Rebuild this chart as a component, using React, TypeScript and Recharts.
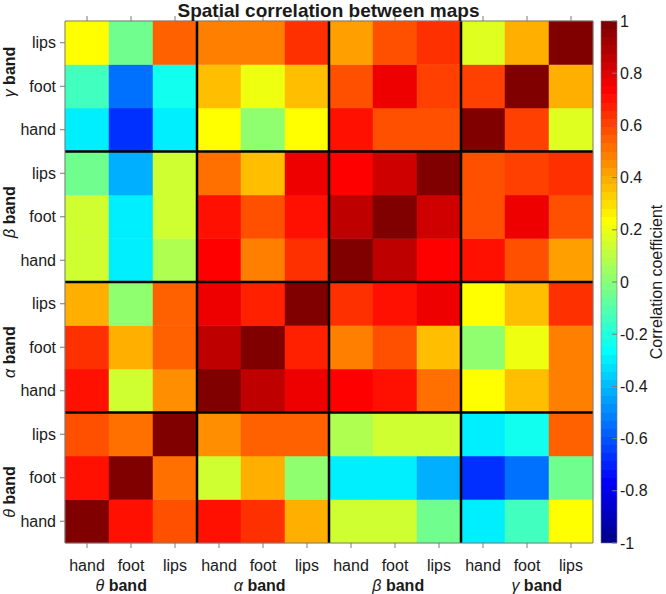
import React from "react"
import { BarChart, Bar, Cell, XAxis, YAxis, ReferenceLine } from "recharts"

const parts = ["hand", "foot", "lips"]
const bands = ["θ", "α", "β", "γ"]
const categories = bands.flatMap((b) => parts.map((p) => `${b} ${p}`))

// correlation rows, same order as the columns: θ hand ... γ lips
const thetaHand = [1, 0.7, 0.57, 0.69, 0.65, 0.38, 0.15, 0.13, -0.05, -0.31, -0.15, 0.24]
const thetaFoot = [0.7, 1, 0.5, 0.15, 0.38, 0.0, -0.3, -0.31, -0.42, -0.67, -0.55, -0.06]
const thetaLips = [0.57, 0.5, 1, 0.44, 0.56, 0.56, 0.08, 0.13, 0.14, -0.31, -0.25, 0.56]
const alphaHand = [0.69, 0.15, 0.44, 1, 0.85, 0.75, 0.72, 0.7, 0.5, 0.24, 0.36, 0.47]
const alphaFoot = [0.65, 0.38, 0.56, 0.85, 1, 0.68, 0.47, 0.57, 0.36, 0.0, 0.2, 0.47]
const alphaLips = [0.38, 0.0, 0.56, 0.75, 0.68, 1, 0.65, 0.69, 0.75, 0.24, 0.36, 0.65]
const betaHand = [0.15, -0.3, 0.08, 0.72, 0.47, 0.65, 1, 0.86, 0.72, 0.7, 0.57, 0.43]
const betaFoot = [0.13, -0.31, 0.13, 0.7, 0.57, 0.69, 0.86, 1, 0.82, 0.58, 0.75, 0.58]
const betaLips = [-0.05, -0.42, 0.14, 0.5, 0.36, 0.75, 0.72, 0.82, 1, 0.57, 0.6, 0.63]
const gammaHand = [-0.31, -0.67, -0.31, 0.24, 0.0, 0.24, 0.7, 0.58, 0.57, 1, 0.6, 0.17]
const gammaFoot = [-0.15, -0.55, -0.25, 0.36, 0.2, 0.36, 0.57, 0.75, 0.6, 0.6, 1, 0.38]
const gammaLips = [0.24, -0.06, 0.56, 0.47, 0.47, 0.65, 0.43, 0.58, 0.63, 0.17, 0.38, 1]

const corr = [
  thetaHand, thetaFoot, thetaLips,
  alphaHand, alphaFoot, alphaLips,
  betaHand, betaFoot, betaLips,
  gammaHand, gammaFoot, gammaLips,
]

const cellTicks = [0.5, 1.5, 2.5, 3.5, 4.5, 5.5, 6.5, 7.5, 8.5, 9.5, 10.5, 11.5]
const groupLines = [3, 6, 9]
const colorbarTicks = [-1, -0.8, -0.6, -0.4, -0.2, 0, 0.2, 0.4, 0.6, 0.8, 1]

const FONT = '"Liberation Sans", Arial, Helvetica, sans-serif'
const TEXT = "#1a1a1a"
const AXIS = "#7a7a7a"

// matlab jet(64)
function jetRow(m: number) {
  const u = (i: number) => (i < 1 || i > 47 ? 0 : i <= 16 ? i / 16 : i <= 31 ? 1 : (48 - i) / 16)
  const c = (x: number) => Math.round(255 * x)
  return `rgb(${c(u(m - 24))},${c(u(m - 8))},${c(u(m + 8))})`
}

function jet(v: number) {
  const m = Math.max(1, Math.min(64, Math.floor(((v + 1) / 2) * 64) + 1))
  return jetRow(m)
}

const tableData = categories.map((name) => {
  const row: Record<string, any> = { name }
  corr.forEach((_, i) => (row[`r${i}`] = 1))
  return row
})

const colorbarData = [{ name: "cb", range: [-1, 1] }]

function XTick(props: any) {
  const { x, y, payload } = props
  const j = categories.indexOf(payload.value)
  const g = Math.floor(j / 3)
  return (
    <g>
      <text x={x} y={y + 21} textAnchor="middle" fontSize={16} fill={TEXT} fontFamily={FONT}>
        {parts[j % 3]}
      </text>
      {j % 3 === 1 && (
        <text x={x + (g - 1.5) * 6.5} y={y + 41} textAnchor="middle" fontSize={16} fill={TEXT} fontFamily={FONT}>
          <tspan fontStyle="italic">{bands[g]}</tspan>
          <tspan fontWeight="bold"> band</tspan>
        </text>
      )}
    </g>
  )
}

function YTick(props: any) {
  const { x, y, payload } = props
  const i = Math.floor(payload.value)
  const g = Math.floor(i / 3)
  const gy = y - (g - 1.5) * 9.5
  return (
    <g>
      <text x={x - 2} y={y} dy="0.35em" textAnchor="end" fontSize={16} fill={TEXT} fontFamily={FONT}>
        {parts[i % 3]}
      </text>
      {i % 3 === 1 && (
        <text
          transform={`translate(${x - 49}, ${gy}) rotate(-90)`}
          textAnchor="middle"
          dy="0.35em"
          fontSize={16}
          fill={TEXT}
          fontFamily={FONT}
        >
          <tspan fontStyle="italic">{bands[g]}</tspan>
          <tspan fontWeight="bold"> band</tspan>
        </text>
      )}
    </g>
  )
}

const NoTick = () => <g />

function CbTick(props: any) {
  const { x, y, payload } = props
  return (
    <g>
      <line x1={x - 5} x2={x} y1={y} y2={y} stroke={AXIS} />
      <text x={x + 3} y={y} dy="0.35em" fontSize={16} fill={TEXT} fontFamily={FONT}>
        {String(Math.round(payload.value * 10) / 10)}
      </text>
    </g>
  )
}

function HeatMap() {
  return (
    <BarChart
      width={666}
      height={594}
      data={tableData}
      margin={{ top: 16, right: 68, bottom: 1, left: 5 }}
      barCategoryGap={0}
      barGap={0}
      style={{ position: "absolute", left: 0, top: 0 }}
    >
      <XAxis
        xAxisId="bottom"
        dataKey="name"
        height={50}
        interval={0}
        tick={<XTick />}
        tickSize={5}
        stroke={AXIS}
      />
      <XAxis xAxisId="top" dataKey="name" orientation="top" height={5} interval={0} tick={NoTick} tickSize={5} stroke={AXIS} />
      <YAxis
        yAxisId="left"
        type="number"
        domain={[0, 12]}
        ticks={cellTicks}
        interval={0}
        width={60}
        tick={<YTick />}
        tickSize={5}
        stroke={AXIS}
      />
      <YAxis
        yAxisId="right"
        orientation="right"
        type="number"
        domain={[0, 12]}
        ticks={cellTicks}
        interval={0}
        width={5}
        tick={NoTick}
        tickSize={5}
        stroke={AXIS}
      />
      {corr.map((row, i) => (
        <Bar key={i} dataKey={`r${i}`} stackId="m" xAxisId="bottom" yAxisId="left" isAnimationActive={false}>
          {categories.map((c, j) => (
            <Cell key={c} fill={jet(row[j])} stroke={jet(row[j])} strokeWidth={0.5} />
          ))}
        </Bar>
      ))}
      {groupLines.map((v) => (
        <ReferenceLine key={`y${v}`} y={v} xAxisId="bottom" yAxisId="left" stroke="#000" strokeWidth={2.5} />
      ))}
      {groupLines.map((v) => (
        <ReferenceLine
          key={`x${v}`}
          x={categories[v]}
          position="start"
          xAxisId="bottom"
          yAxisId="left"
          stroke="#000"
          strokeWidth={2.5}
        />
      ))}
    </BarChart>
  )
}

function ColorBar() {
  const stops: React.ReactNode[] = []
  for (let m = 1; m <= 64; m++) {
    const c = jetRow(m)
    stops.push(<stop key={`a${m}`} offset={(m - 1) / 64} stopColor={c} />)
    stops.push(<stop key={`b${m}`} offset={m / 64} stopColor={c} />)
  }
  return (
    <BarChart
      width={666}
      height={594}
      data={colorbarData}
      margin={{ top: 21, right: 9, bottom: 51, left: 601 }}
      barCategoryGap={0}
      style={{ position: "absolute", left: 0, top: 0 }}
    >
      <defs>
        <linearGradient id="jetGrad" x1="0" y1="1" x2="0" y2="0">
          {stops}
        </linearGradient>
      </defs>
      <XAxis dataKey="name" hide />
      <YAxis
        orientation="right"
        type="number"
        domain={[-1, 1]}
        ticks={colorbarTicks}
        interval={0}
        width={40}
        tickSize={0}
        tickMargin={0}
        axisLine={false}
        tickLine={false}
        tick={<CbTick />}
      />
      <Bar dataKey="range" fill="url(#jetGrad)" stroke={AXIS} strokeWidth={0.6} isAnimationActive={false} />
    </BarChart>
  )
}

export default function App() {
  return (
    <div style={{ position: "absolute", left: 0, top: 0, width: 666, height: 594, background: "#fff", fontFamily: FONT }}>
      <ColorBar />
      <HeatMap />
      <div
        style={{
          position: "absolute",
          left: 0,
          top: 0,
          width: 657,
          textAlign: "center",
          fontSize: 19,
          fontWeight: "bold",
          lineHeight: "21px",
          color: TEXT,
        }}
      >
        Spatial correlation between maps
      </div>
      <div
        style={{
          position: "absolute",
          left: 657,
          top: 282,
          transform: "translate(-50%, -50%) rotate(-90deg)",
          whiteSpace: "nowrap",
          fontSize: 16,
          lineHeight: "14px",
          color: TEXT,
        }}
      >
        Correlation coefficient
      </div>
    </div>
  )
}
